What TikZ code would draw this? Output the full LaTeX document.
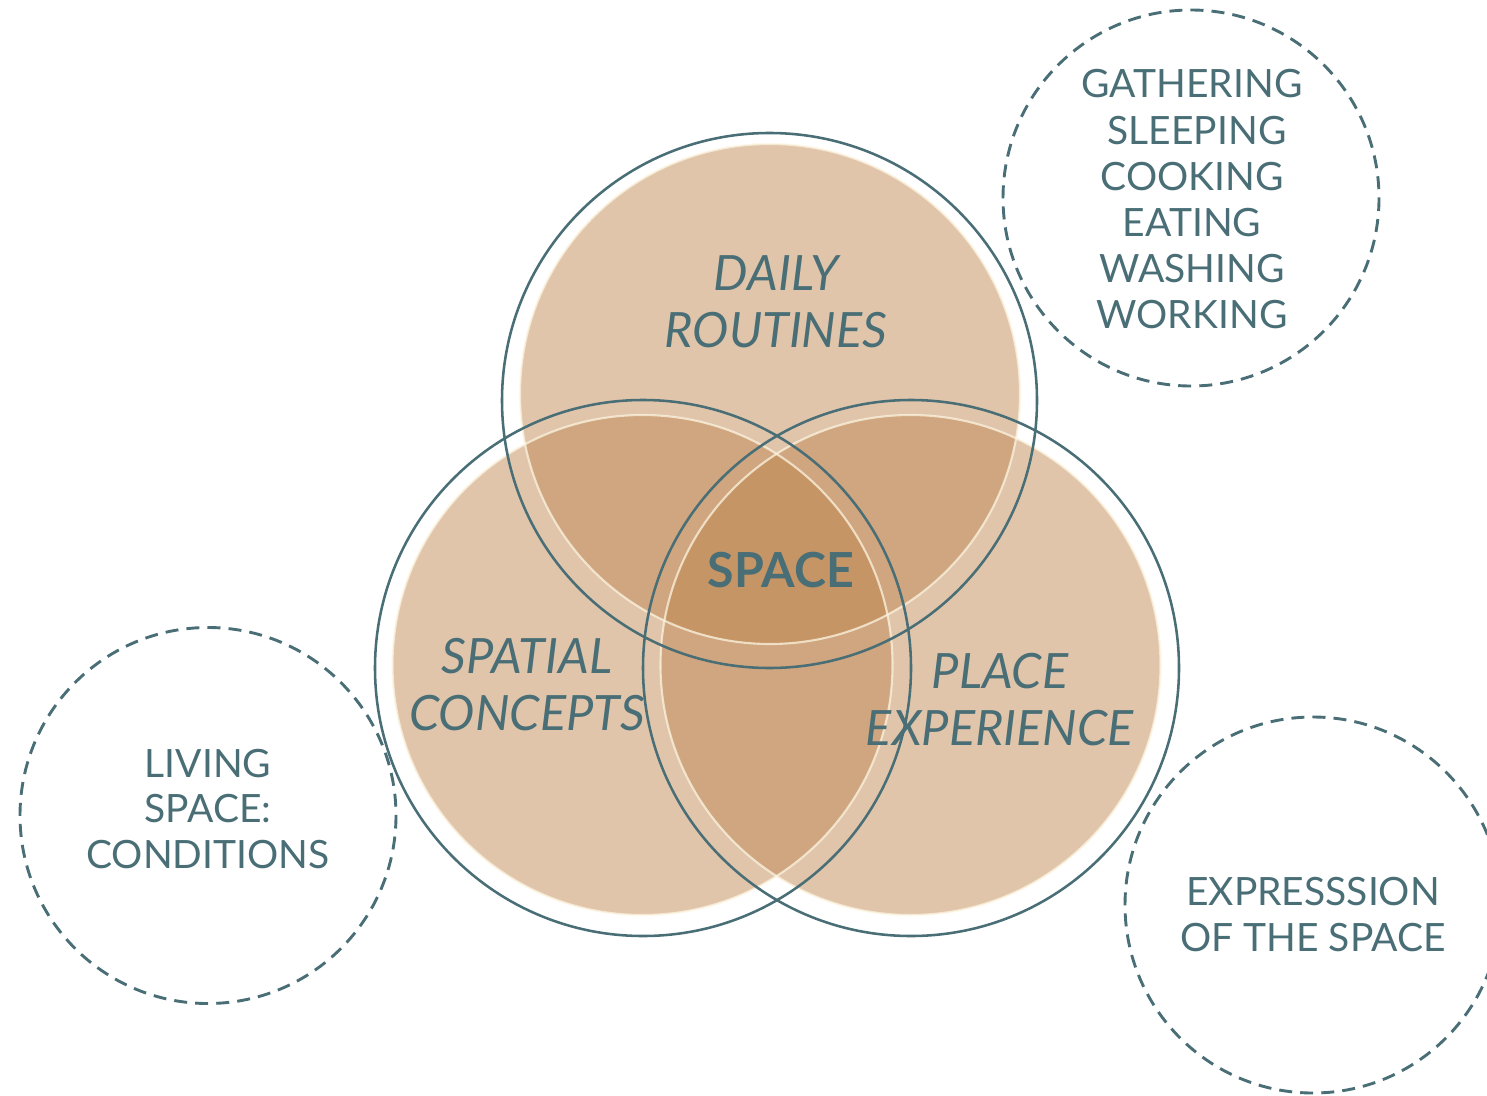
\documentclass[tikz,border=0pt]{standalone}
\usepackage{fontspec}
\setmainfont{Lato}
\definecolor{slate}{RGB}{74,110,118}
\definecolor{tan}{RGB}{187,129,73}
\definecolor{cream}{RGB}{252,245,225}
\tikzset{
  fillc/.style={fill=tan,fill opacity=0.46,draw=none},
  creamc/.style={draw=cream,line width=1.2pt,draw opacity=0.75},
  outc/.style={draw=slate,line width=1.45pt},
  dashc/.style={draw=slate,line width=1.65pt,dash pattern=on 7.4pt off 4.6pt},
  bigit/.style={text=slate,inner sep=0pt,anchor=base,font=\fontsize{27.7}{32}\selectfont\itshape},
  bigbf/.style={text=slate,inner sep=0pt,anchor=base,font=\fontsize{27.5}{32}\selectfont\bfseries},
  small/.style={text=slate,inner sep=0pt,anchor=base,font=\fontsize{22.2}{26}\selectfont}
}
\begin{document}
\begin{tikzpicture}[x=0.02cm,y=-0.02cm]
\useasboundingbox (0,0) rectangle (1487,1095);
\clip (0,0) rectangle (1487,1095);
% filled circles
\fill[fillc] (770,394) circle (250);
\fill[fillc] (642.5,665) circle (250);
\fill[fillc] (910.5,665) circle (250);
\draw[creamc] (770,394) circle (250);
\draw[creamc] (642.5,665) circle (250);
\draw[creamc] (910.5,665) circle (250);
% outline circles
\draw[outc] (769.5,400.5) circle (267.5);
\draw[outc] (643,668) circle (268);
\draw[outc] (911,668) circle (268);
% dashed circles
\draw[dashc] (1191,198) circle (188);
\draw[dashc] (208,815.5) circle (188);
\draw[dashc] (1313,905) circle (188);
% main labels
\node[bigit] (d1) at (776,290) {DAILY};
\node[bigit] (d2) at (776,347) {ROUTINES};
\node[bigbf] (sp) at (781,587) {SPACE};
\node[bigit] (s1) at (527,673) {SPATIAL};
\node[bigit] (s2) at (527,730) {CONCEPTS};
\node[bigit] (p1) at (1000,688) {PLACE};
\node[bigit] (p2) at (1000,745) {EXPERIENCE};
% lists
\node[small] (g1) at (1192,98) {GATHERING};
\node[small] (g2) at (1197,144) {SLEEPING};
\node[small] (g3) at (1192,190) {COOKING};
\node[small] (g4) at (1192,236) {EATING};
\node[small] (g5) at (1192,282) {WASHING};
\node[small] (g6) at (1192,328) {WORKING};
\node[small] (l1) at (208,777) {LIVING};
\node[small] (l2) at (208,822) {SPACE:};
\node[small] (l3) at (208,868) {CONDITIONS};
\node[small] (e1) at (1313,905) {EXPRESSSION};
\node[small] (e2) at (1313,951) {OF THE SPACE};
\end{tikzpicture}
\end{document}
